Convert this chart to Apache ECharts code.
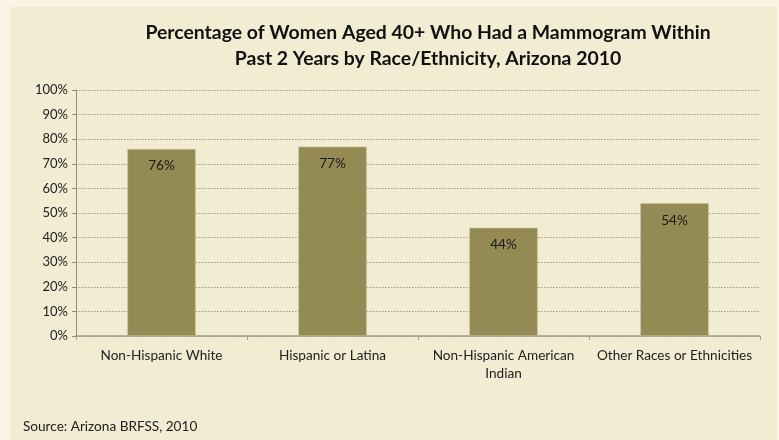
<!DOCTYPE html>
<html><head><meta charset="utf-8">
<script src="https://cdn.jsdelivr.net/npm/echarts@6/dist/echarts.min.js"></script>
<style>
html,body{margin:0;padding:0;background:#FBF4E5;}
#panel{position:absolute;left:10px;top:7px;width:767px;height:433px;background:#F2ECD2;}
#c{position:absolute;left:0;top:0;width:779px;height:440px;}
</style></head>
<body><div id="panel"></div><div id="c"></div>
<script>
const categories = ['Non-Hispanic White', 'Hispanic or Latina', 'Non-Hispanic American\nIndian', 'Other Races or Ethnicities'];
const values = [76, 77, 44, 54];
const titleText = 'Percentage of Women Aged 40+ Who Had a Mammogram Within\nPast 2 Years by Race/Ethnicity, Arizona 2010';
const sourceText = 'Source: Arizona BRFSS, 2010';

const FONT = 'Lato, "Open Sans", sans-serif';
const chart = echarts.init(document.getElementById('c'), null, {renderer: 'canvas'});
chart.setOption({
  backgroundColor: 'transparent',
  animation: false,
  title: [{
    text: titleText,
    left: 428, top: 20, textAlign: 'center', padding: 0,
    textStyle: {fontFamily: FONT, fontWeight: 'bold', fontSize: 19.4, color: '#111', lineHeight: 26}
  }, {
    text: sourceText,
    left: 23, top: 420, padding: 0,
    textStyle: {fontFamily: FONT, fontWeight: 'normal', fontSize: 13.6, color: '#222'}
  }],
  grid: {left: 76, right: 19, top: 90, bottom: 104},
  xAxis: {
    type: 'category', data: categories,
    axisLine: {lineStyle: {color: '#A09C90', width: 1.5}},
    axisTick: {show: true, length: 4, lineStyle: {color: '#A09C90'}},
    axisLabel: {fontFamily: FONT, fontSize: 13.6, color: '#222', margin: 11, lineHeight: 18, interval: 0}
  },
  yAxis: {
    type: 'value', min: 0, max: 100, interval: 10,
    axisLine: {show: true, lineStyle: {color: '#8E8B84'}},
    axisTick: {show: true, length: 4, lineStyle: {color: '#8E8B84'}},
    axisLabel: {fontFamily: FONT, fontSize: 13, color: '#222', margin: 8, formatter: '{value}%'},
    splitLine: {show: true, lineStyle: {color: '#9A968C', type: [1.5, 1.5], width: 1}}
  },
  series: [{
    type: 'bar', data: values, barWidth: '40%',
    itemStyle: {color: '#948A54', borderColor: '#C9C29F', borderWidth: 0.6},
    label: {show: true, position: 'insideTop', distance: 10, formatter: '{c}%',
      fontFamily: FONT, fontSize: 13.6, color: '#1a1a1a'}
  }]
});
</script></body></html>
